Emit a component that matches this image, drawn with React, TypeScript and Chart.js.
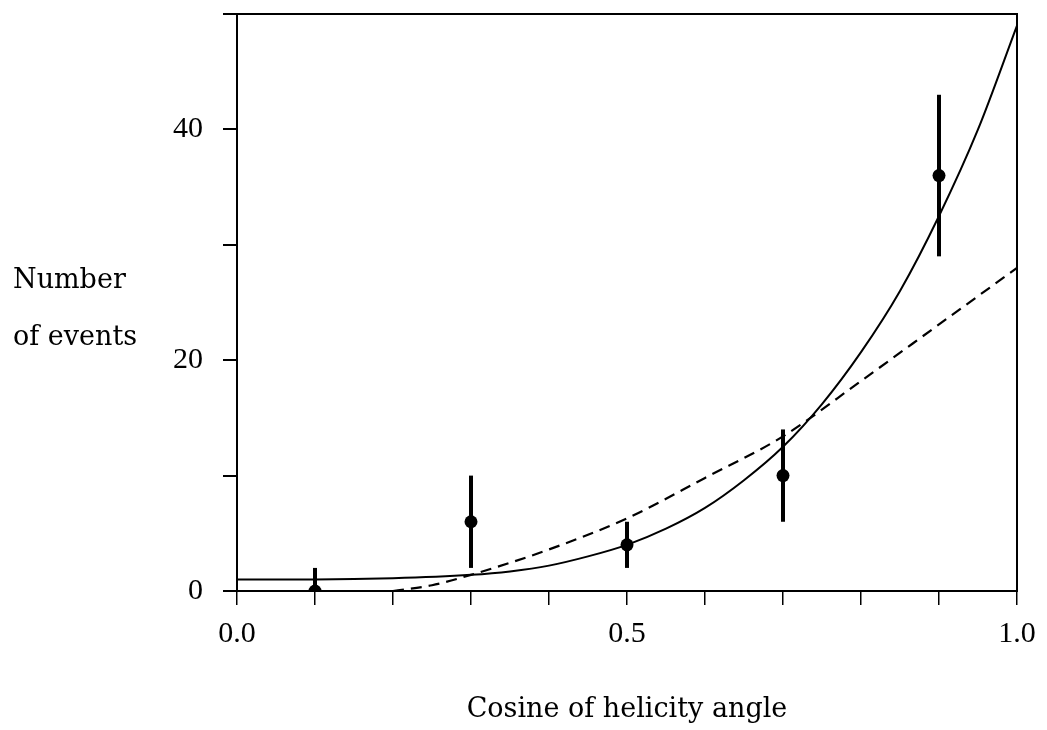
import React, { useEffect, useRef } from 'react';
import { Chart, registerables } from 'chart.js';

Chart.register(...registerables);

// Measured data points with error bars
const pointX = [0.1, 0.3, 0.5, 0.7, 0.9];
const pointY = [0, 6, 4, 10, 36];
const errLow = [0, 2, 2, 6, 29];
const errHigh = [2, 10, 6, 14, 43];

// Solid fitted curve
const solidX = [0, 0.1, 0.2, 0.3, 0.35, 0.4, 0.45, 0.5, 0.55, 0.6, 0.65, 0.7, 0.75, 0.8, 0.85, 0.9, 0.95, 1.0];
const solidY = [1, 1, 1.1, 1.4, 1.7, 2.2, 3.0, 4, 5.4, 7.2, 9.6, 12.5, 16.2, 20.7, 26, 32.5, 40, 49];

// Dashed curve
const dashedX = [0.2, 0.25, 0.3, 0.4, 0.5, 0.6, 0.7, 0.8, 0.9, 1.0];
const dashedY = [0, 0.5, 1.4, 3.6, 6.3, 9.8, 13.4, 18.2, 23.1, 28];

// Tick labels
const xTickValues = [0, 0.5, 1];
const xTickLabels = ['0.0', '0.5', '1.0'];
const yTickValues = [0, 20, 40];
const yTickLabels = ['0', '20', '40'];

const xTitle = 'Cosine of helicity angle';
const yTitleLines = ['Number', 'of events'];

const TICK_FONT = 'Liberation Serif';
const TITLE_FONT = 'DejaVu Serif';

const errorBarPlugin = {
  id: 'errorBars',
  beforeDatasetsDraw(chart: any) {
    const { ctx, scales } = chart;
    const xs = scales.x;
    const ys = scales.y;
    ctx.save();
    ctx.strokeStyle = '#000';
    ctx.lineWidth = 4;
    ctx.lineCap = 'butt';
    for (let i = 0; i < pointX.length; i++) {
      const px = xs.getPixelForValue(pointX[i]);
      ctx.beginPath();
      ctx.moveTo(px, ys.getPixelForValue(errLow[i]));
      ctx.lineTo(px, ys.getPixelForValue(errHigh[i]));
      ctx.stroke();
    }
    ctx.restore();
  },
};

const framePlugin = {
  id: 'frame',
  afterDraw(chart: any) {
    const { ctx, chartArea } = chart;
    ctx.save();
    ctx.strokeStyle = '#000';
    ctx.lineWidth = 2;
    ctx.strokeRect(chartArea.left, chartArea.top, chartArea.right - chartArea.left, chartArea.bottom - chartArea.top);
    ctx.restore();
  },
};

const yTitlePlugin = {
  id: 'yTitle',
  afterDraw(chart: any) {
    const { ctx } = chart;
    ctx.save();
    ctx.fillStyle = '#000';
    ctx.font = `27px "${TITLE_FONT}"`;
    ctx.textAlign = 'left';
    ctx.textBaseline = 'alphabetic';
    ctx.fillText(yTitleLines[0], 13, 288);
    ctx.fillText(yTitleLines[1], 13, 345);
    ctx.restore();
  },
};

function labelFor(value: number, values: number[], labels: string[]) {
  for (let i = 0; i < values.length; i++) {
    if (Math.abs(value - values[i]) < 1e-6) return labels[i];
  }
  return '';
}

export default function App() {
  const canvasRef = useRef<HTMLCanvasElement | null>(null);

  useEffect(() => {
    if (!canvasRef.current) return;
    const chart = new Chart(canvasRef.current, {
      type: 'line',
      data: {
        datasets: [
          {
            label: 'data',
            data: pointX.map((x, i) => ({ x, y: pointY[i] })),
            showLine: false,
            pointRadius: 6.5,
            pointBackgroundColor: '#000',
            pointBorderColor: '#000',
            pointBorderWidth: 0,
          },
          {
            label: 'solid',
            data: solidX.map((x, i) => ({ x, y: solidY[i] })),
            borderColor: '#000',
            borderWidth: 2,
            pointRadius: 0,
            cubicInterpolationMode: 'monotone',
            fill: false,
          },
          {
            label: 'dashed',
            data: dashedX.map((x, i) => ({ x, y: dashedY[i] })),
            borderColor: '#000',
            borderWidth: 2.2,
            borderDash: [11, 7],
            pointRadius: 0,
            cubicInterpolationMode: 'monotone',
            fill: false,
          },
        ],
      },
      options: {
        animation: false,
        responsive: false,
        layout: { padding: { left: 0, top: 14, right: 30, bottom: 0 } },
        plugins: {
          legend: { display: false },
          tooltip: { enabled: false },
        },
        scales: {
          x: {
            type: 'linear',
            min: 0,
            max: 1,
            border: { display: false },
            grid: {
              drawOnChartArea: false,
              drawTicks: true,
              tickLength: 14,
              color: '#000',
              lineWidth: 1.5,
            },
            ticks: {
              stepSize: 0.1,
              autoSkip: false,
              maxRotation: 0,
              padding: 11,
              color: '#000',
              font: { family: TICK_FONT, size: 30 },
              callback: (v: any) => labelFor(Number(v), xTickValues, xTickLabels),
            },
            title: {
              display: true,
              text: xTitle,
              color: '#000',
              font: { family: TITLE_FONT, size: 27 },
              padding: { top: 0, bottom: 4 },
            },
            afterFit: (scale: any) => {
              scale.height = 139;
              scale.paddingLeft = 0;
              scale.paddingRight = 0;
            },
          },
          y: {
            type: 'linear',
            min: 0,
            max: 50,
            border: { display: false },
            grid: {
              drawOnChartArea: false,
              drawTicks: true,
              tickLength: 14,
              color: '#000',
              lineWidth: 2,
            },
            ticks: {
              stepSize: 10,
              autoSkip: false,
              padding: 20,
              color: '#000',
              font: { family: TICK_FONT, size: 30 },
              callback: (v: any) => labelFor(Number(v), yTickValues, yTickLabels),
            },
            afterFit: (scale: any) => {
              scale.width = 237;
              scale.paddingTop = 0;
              scale.paddingBottom = 0;
            },
          },
        },
      },
      plugins: [errorBarPlugin, framePlugin, yTitlePlugin],
    } as any);
    return () => chart.destroy();
  }, []);

  return (
    <div style={{ position: 'absolute', left: 0, top: 0, width: 1047, height: 730, background: '#fff' }}>
      <canvas ref={canvasRef} width={1047} height={730} />
    </div>
  );
}
